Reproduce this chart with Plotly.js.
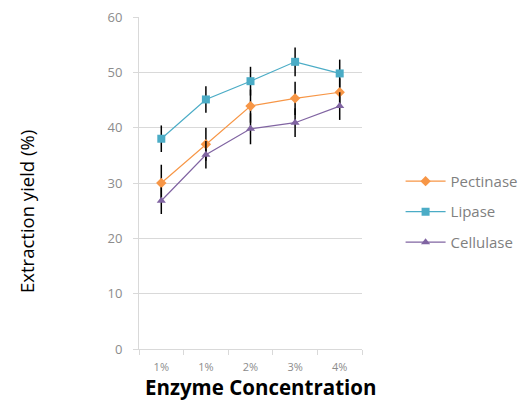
<!DOCTYPE html>
<html>
<head>
<meta charset="utf-8">
<script src="https://cdn.plot.ly/plotly-3.0.1.min.js"></script>
<style>html,body{margin:0;padding:0;background:#fff;}#chart{width:530px;height:404px;}</style>
</head>
<body>
<div id="chart"></div>
<script>
var categories = ['1%', '1%', '2%', '3%', '4%'];
var xIndex = [0, 1, 2, 3, 4];
var pectinase = [30.0, 37.0, 43.9, 45.3, 46.4];
var pectinaseErr = [3.3, 3.0, 3.0, 3.0, 2.5];
var lipase = [38.0, 45.1, 48.4, 51.9, 49.8];
var lipaseErr = [2.4, 2.4, 2.6, 2.6, 2.5];
var cellulase = [26.8, 35.1, 39.8, 40.9, 43.9];
var cellulaseErr = [2.4, 2.5, 2.8, 2.6, 2.5];
var xTitle = 'Enzyme Concentration';
var yTitle = 'Extraction yield (%)';

function series(name, y, err, color, symbol, size) {
  return {
    type: 'scatter', mode: 'lines+markers', name: name, legendgroup: name,
    x: xIndex, y: y,
    line: {color: color, width: 1.2},
    marker: {color: color, symbol: symbol, size: size},
    error_y: {type: 'data', array: err, visible: true, color: '#000', thickness: 1.5, width: 0}
  };
}

var data = [
  series('Pectinase', pectinase, pectinaseErr, '#F79646', 'diamond', 8),
  series('Lipase', lipase, lipaseErr, '#4BACC6', 'square', 8),
  series('Cellulase', cellulase, cellulaseErr, '#8064A2', 'triangle-up', 8)
];

var layout = {
  width: 530, height: 404,
  margin: {l: 139, r: 168, t: 17, b: 55, autoexpand: false},
  paper_bgcolor: '#fff', plot_bgcolor: '#fff',
  font: {family: 'Open Sans, sans-serif', color: '#7f7f7f'},
  showlegend: true,
  legend: {x: 1.173, xanchor: 'left', y: 0.413, yanchor: 'middle',
           font: {size: 15, color: '#7f7f7f'}, tracegroupgap: 8, itemwidth: 40,
           traceorder: 'grouped', bgcolor: 'rgba(0,0,0,0)'},
  xaxis: {
    range: [-0.5, 4.5], tickmode: 'array', tickvals: xIndex, ticktext: categories,
    ticks: '', showgrid: false, zeroline: false,
    showline: true, linecolor: '#d9d9d9', linewidth: 1,
    ticklabelstandoff: 8,
    tickfont: {size: 11, color: '#8c8c8c'},
    minor: {tickmode: 'linear', tick0: -0.5, dtick: 1, ticks: 'outside', ticklen: 5, tickcolor: '#d9d9d9', showgrid: false}
  },
  yaxis: {
    range: [0, 60], dtick: 10, tick0: 0,
    showgrid: true, gridcolor: '#d9d9d9', gridwidth: 1, zeroline: false,
    showline: true, linecolor: '#d9d9d9', linewidth: 1,
    ticks: 'outside', ticklen: 5, tickcolor: '#d9d9d9',
    ticklabelstandoff: 8,
    tickfont: {size: 13, color: '#8c8c8c'}
  },
  annotations: [{
    text: yTitle, textangle: -90, showarrow: false,
    xref: 'paper', yref: 'paper', x: -0.502, y: 0.413, xanchor: 'center', yanchor: 'middle',
    font: {size: 18.5, color: '#000', family: 'Open Sans, sans-serif'}
  }, {
    text: '<b>' + xTitle + '</b>', showarrow: false,
    xref: 'paper', yref: 'paper', x: 0.547, y: -0.163, xanchor: 'center', yanchor: 'bottom',
    font: {size: 20.5, color: '#000', family: 'Open Sans, sans-serif'}
  }]
};

Plotly.newPlot('chart', data, layout, {displayModeBar: false, staticPlot: true});
</script>
</body>
</html>
